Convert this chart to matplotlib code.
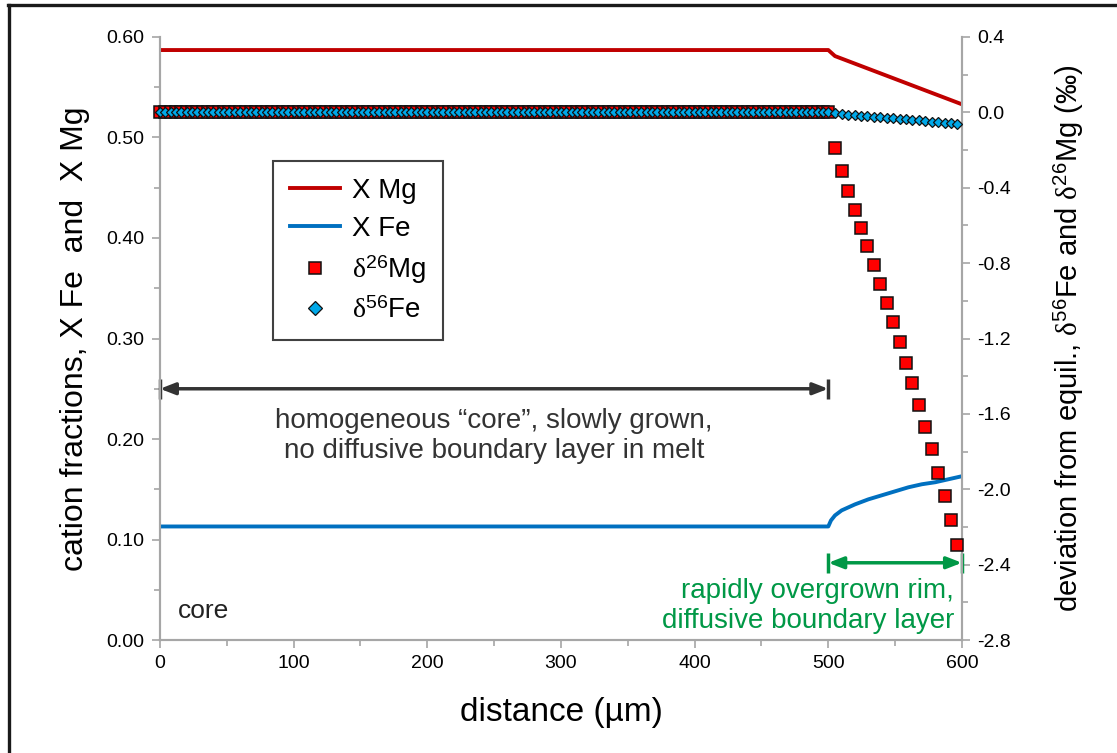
import numpy as np
import matplotlib.pyplot as plt
from matplotlib.lines import Line2D
from matplotlib.ticker import MultipleLocator, FormatStrFormatter

plt.rcParams['font.family'] = ['Liberation Sans', 'DejaVu Sans']
plt.rcParams['mathtext.fontset'] = 'custom'
plt.rcParams['mathtext.rm'] = 'Liberation Serif'
plt.rcParams['mathtext.it'] = 'Liberation Serif:italic'
plt.rcParams['mathtext.sf'] = 'Liberation Sans'

#-----------------------------------------------------------------------------------------
# cation fractions (left axis)
xmg_x = [0, 500, 505, 600]
xmg_y = [0.587, 0.587, 0.581, 0.533]

xfe_x = [0, 500, 502, 505, 510, 515, 520, 530, 540, 550, 560, 570, 580, 590, 600]
xfe_y = [0.113, 0.113, 0.119, 0.124, 0.129, 0.132, 0.135, 0.140, 0.144, 0.148, 0.152,
         0.155, 0.157, 0.160, 0.163]

# isotope deviations (right axis), core grid is flat at 0
core_x = np.arange(0, 501, 4)
core_d = np.zeros(len(core_x))

rim_mg_x = [505.2, 510.2, 514.9, 519.9, 524.4, 529.3, 534.1, 538.9, 543.6, 548.6,
            553.3, 558.1, 562.9, 567.6, 572.6, 577.3, 582.1, 587.1, 591.9, 596.6]
rim_mg_d = [-0.189, -0.313, -0.417, -0.518, -0.615, -0.711, -0.810, -0.909, -1.012, -1.115,
            -1.219, -1.329, -1.438, -1.553, -1.668, -1.788, -1.913, -2.036, -2.164, -2.295]

rim_fe_x = rim_mg_x
rim_fe_d = [-0.006, -0.009, -0.012, -0.014, -0.017, -0.019, -0.022, -0.025, -0.028, -0.031,
            -0.034, -0.037, -0.040, -0.043, -0.046, -0.049, -0.052, -0.055, -0.058, -0.062]

#-----------------------------------------------------------------------------------------
c_mg = '#C00000'
c_fe = '#0070C0'
c_sq = '#FF0000'
c_di = '#00A8E8'
c_green = '#009846'
c_spine = '#A6A6A6'

d26 = r'$\mathrm{\delta}^{\mathsf{26}}$'
d56 = r'$\mathrm{\delta}^{\mathsf{56}}$'

fig = plt.figure(figsize=(11.17, 7.53), dpi=100)
ax = fig.add_axes([0.1432, 0.150, 0.7180, 0.8009])
ax2 = ax.twinx()

# Linien
ax.plot(xmg_x, xmg_y, color=c_mg, lw=2.8, zorder=3)
ax.plot(xfe_x, xfe_y, color=c_fe, lw=2.8, zorder=3)

# Isotopen-Marker
mg_x = list(core_x) + rim_mg_x
mg_d = list(core_d) + rim_mg_d
fe_x = list(core_x) + rim_fe_x
fe_d = list(core_d) + rim_fe_d
ax2.plot(mg_x, mg_d, ls='none', marker='s', ms=9, mfc=c_sq, mec='#111111', mew=1.1,
         clip_on=False, zorder=4)
ax2.plot(fe_x, fe_d, ls='none', marker='D', ms=5.0, mfc=c_di, mec='#111111', mew=0.9,
         clip_on=False, zorder=5)

# Achsen
ax.set_xlim(0, 600)
ax.set_ylim(0, 0.6)
ax2.set_ylim(-2.8, 0.4)
ax.xaxis.set_major_locator(MultipleLocator(100))
ax.xaxis.set_minor_locator(MultipleLocator(50))
ax.yaxis.set_major_locator(MultipleLocator(0.1))
ax.yaxis.set_minor_locator(MultipleLocator(0.05))
ax.yaxis.set_major_formatter(FormatStrFormatter('%.2f'))
ax2.yaxis.set_major_locator(MultipleLocator(0.4))
ax2.yaxis.set_minor_locator(MultipleLocator(0.2))
ax2.yaxis.set_major_formatter(FormatStrFormatter('%.1f'))

for a in (ax, ax2):
    for side in ('left', 'right', 'bottom'):
        a.spines[side].set_color(c_spine)
        a.spines[side].set_linewidth(1.5)
    a.spines['top'].set_visible(False)
    a.tick_params(which='major', direction='out', length=6, width=1.2, color=c_spine,
                  labelsize=14, labelcolor='black', pad=5)
    a.tick_params(which='minor', direction='out', length=4, width=1.2, color=c_spine)

ax.set_xlabel('distance (µm)', fontsize=24, labelpad=18)
ax.set_ylabel('cation fractions, X Fe  and  X Mg', fontsize=23, labelpad=12)
ax2.set_ylabel('deviation from equil., ' + d56 + 'Fe and ' + d26 + 'Mg (‰)',
               fontsize=21, labelpad=30)

# Pfeile und Beschriftungen
ax.annotate('', xy=(0, 0.25), xytext=(500, 0.25),
            arrowprops=dict(arrowstyle='<|-|>,head_length=0.9,head_width=0.35',
                            color='#333333', lw=2.5, shrinkA=0, shrinkB=0))
ax.plot([0, 500], [0.25, 0.25], ls='none', marker='|', ms=15, mew=2.5, color='#333333',
        clip_on=False)
ax.text(250, 0.203, 'homogeneous \u201ccore\u201d, slowly grown,\nno diffusive boundary layer in melt',
        ha='center', va='center', fontsize=20, color='#333333', linespacing=1.2)

ax2.annotate('', xy=(500, -2.39), xytext=(600, -2.39),
             arrowprops=dict(arrowstyle='<|-|>,head_length=0.9,head_width=0.35',
                             color=c_green, lw=2.5, shrinkA=0, shrinkB=0))
ax2.plot([500, 600], [-2.39, -2.39], ls='none', marker='|', ms=15, mew=2.5, color=c_green,
         clip_on=False)
ax.text(594, 0.034, 'rapidly overgrown rim,\ndiffusive boundary layer',
        ha='right', va='center', multialignment='right', fontsize=20, color=c_green,
        linespacing=1.2)

ax.text(13.5, 0.029, 'core', ha='left', va='center', fontsize=19, color='#222222')

# Legende
handles = [Line2D([], [], color=c_mg, lw=2.8),
           Line2D([], [], color=c_fe, lw=2.8),
           Line2D([], [], ls='none', marker='s', ms=8.5, mfc=c_sq, mec='#111111', mew=1.1),
           Line2D([], [], ls='none', marker='D', ms=7, mfc=c_di, mec='#111111', mew=0.9)]
labels = ['X Mg', 'X Fe', d26 + 'Mg', d56 + 'Fe']
leg = ax.legend(handles, labels, loc='upper left', bbox_to_anchor=(0.141, 0.794),
                borderaxespad=0, fontsize=20, frameon=True, fancybox=False,
                handlelength=1.8, handletextpad=0.45, labelspacing=0.42, borderpad=0.6)
leg.get_frame().set_edgecolor('#111111')
leg.get_frame().set_linewidth(1.5)
leg.set_zorder(10)

# Rahmen oben und links
fig.add_artist(Line2D([0.0078, 0.0078], [0.0, 0.9928], color='#1A1A1A', lw=2.4,
                      transform=fig.transFigure))
fig.add_artist(Line2D([0.0068, 1.0], [0.9928, 0.9928], color='#1A1A1A', lw=2.4,
                      transform=fig.transFigure))

fig.savefig('out.png', dpi=100)
